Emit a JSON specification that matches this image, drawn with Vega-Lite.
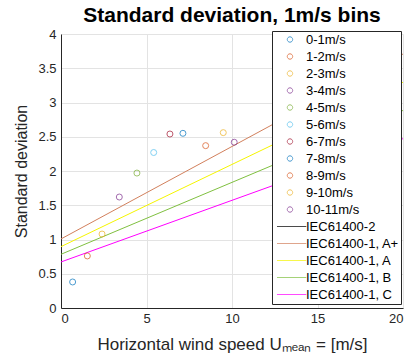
{
  "$schema": "https://vega.github.io/schema/vega-lite/v6.json",
  "width": 342,
  "height": 274,
  "autosize": {"type": "none"},
  "padding": {"left": 61, "top": 34, "right": 10, "bottom": 55},
  "title": {"text": "Standard deviation, 1m/s bins", "font": "Liberation Sans", "fontSize": 21, "fontWeight": "bold", "color": "#000000", "anchor": "middle", "offset": 2},
  "config": {"view": {"stroke": null}, "font": "Liberation Sans"},
  "datasets": {
    "points": [
      {"series": "0-1m/s", "u": 0.68, "sd": 0.38},
      {"series": "1-2m/s", "u": 1.54, "sd": 0.76},
      {"series": "2-3m/s", "u": 2.4, "sd": 1.08},
      {"series": "3-4m/s", "u": 3.41, "sd": 1.62},
      {"series": "4-5m/s", "u": 4.44, "sd": 1.97},
      {"series": "5-6m/s", "u": 5.42, "sd": 2.27},
      {"series": "6-7m/s", "u": 6.37, "sd": 2.54},
      {"series": "7-8m/s", "u": 7.13, "sd": 2.55},
      {"series": "8-9m/s", "u": 8.46, "sd": 2.37},
      {"series": "9-10m/s", "u": 9.49, "sd": 2.56},
      {"series": "10-11m/s", "u": 10.13, "sd": 2.42}
    ],
    "lines": [
      {"series": "IEC61400-1, A+", "u": 0, "sd": 1.008},
      {"series": "IEC61400-1, A+", "u": 20, "sd": 3.708},
      {"series": "IEC61400-1, A", "u": 0, "sd": 0.896},
      {"series": "IEC61400-1, A", "u": 20, "sd": 3.296},
      {"series": "IEC61400-1, B", "u": 0, "sd": 0.784},
      {"series": "IEC61400-1, B", "u": 20, "sd": 2.884},
      {"series": "IEC61400-1, C", "u": 0, "sd": 0.672},
      {"series": "IEC61400-1, C", "u": 20, "sd": 2.472}
    ]
  },
  "encoding": {
    "x": {
      "field": "u", "type": "quantitative",
      "scale": {"domain": [0, 20], "nice": false},
      "axis": {
        "values": [0, 5, 10, 15, 20],
        "title": "Horizontal wind speed Uₘₑₐₙ = [m/s]",
        "titleFont": "Liberation Sans", "titleFontSize": 17, "titleFontWeight": "normal", "titleColor": "#262626", "titlePadding": 11,
        "labelFont": "Liberation Sans", "labelFontSize": 13, "labelColor": "#262626", "labelPadding": 4,
        "ticks": false, "domainColor": "#262626", "gridColor": "#e3e3e3"
      }
    },
    "y": {
      "field": "sd", "type": "quantitative",
      "scale": {"domain": [0, 4], "nice": false},
      "axis": {
        "values": [0, 0.5, 1, 1.5, 2, 2.5, 3, 3.5, 4],
        "format": "~g",
        "title": "Standard deviation",
        "titleFont": "Liberation Sans", "titleFontSize": 16, "titleFontWeight": "normal", "titleColor": "#262626", "titlePadding": 8,
        "labelFont": "Liberation Sans", "labelFontSize": 13, "labelColor": "#262626", "labelPadding": 5,
        "ticks": false, "domainColor": "#262626", "gridColor": "#e3e3e3"
      }
    },
    "color": {
      "field": "series", "type": "nominal",
      "scale": {
        "domain": ["0-1m/s", "1-2m/s", "2-3m/s", "3-4m/s", "4-5m/s", "5-6m/s", "6-7m/s", "7-8m/s", "8-9m/s", "9-10m/s", "10-11m/s", "IEC61400-2", "IEC61400-1, A+", "IEC61400-1, A", "IEC61400-1, B", "IEC61400-1, C"],
        "range": ["#0072BD", "#D95319", "#EDB120", "#7E2F8E", "#77AC30", "#4DBEEE", "#A2142F", "#0072BD", "#D95319", "#EDB120", "#7E2F8E", "#000000", "#d2805c", "#f5f500", "#80c040", "#ff00ff"]
      },
      "legend": {
        "orient": "none", "legendX": 211, "legendY": -3, "zindex": 1,
        "title": null,
        "strokeColor": "#262626", "fillColor": "#ffffff", "padding": 2,
        "labelFont": "Liberation Sans", "labelFontSize": 13, "labelColor": "#000000", "labelOffset": 19,
        "rowPadding": 3, "symbolStrokeWidth": 1, "symbolSize": 36
      }
    }
  },
  "layer": [
    {
      "data": {"name": "lines"},
      "mark": {"type": "line", "strokeWidth": 1},
      "encoding": {}
    },
    {
      "data": {"name": "points"},
      "mark": {"type": "point", "filled": false, "strokeWidth": 1, "size": 36, "shape": "circle"},
      "encoding": {}
    },
    {
      "data": {"name": "points"},
      "transform": [{"filter": "datum.u < -100"}],
      "mark": {"type": "point", "filled": false, "strokeWidth": 1, "size": 36},
      "encoding": {
        "shape": {
          "field": "series", "type": "nominal",
          "scale": {
            "domain": ["0-1m/s", "1-2m/s", "2-3m/s", "3-4m/s", "4-5m/s", "5-6m/s", "6-7m/s", "7-8m/s", "8-9m/s", "9-10m/s", "10-11m/s", "IEC61400-2", "IEC61400-1, A+", "IEC61400-1, A", "IEC61400-1, B", "IEC61400-1, C"],
            "range": ["M4.06,0A0.9,0.9,0,1,1,2.26,0A0.9,0.9,0,1,1,4.06,0Z", "M4.06,0A0.9,0.9,0,1,1,2.26,0A0.9,0.9,0,1,1,4.06,0Z", "M4.06,0A0.9,0.9,0,1,1,2.26,0A0.9,0.9,0,1,1,4.06,0Z", "M4.06,0A0.9,0.9,0,1,1,2.26,0A0.9,0.9,0,1,1,4.06,0Z", "M4.06,0A0.9,0.9,0,1,1,2.26,0A0.9,0.9,0,1,1,4.06,0Z", "M4.06,0A0.9,0.9,0,1,1,2.26,0A0.9,0.9,0,1,1,4.06,0Z", "M4.06,0A0.9,0.9,0,1,1,2.26,0A0.9,0.9,0,1,1,4.06,0Z", "M4.06,0A0.9,0.9,0,1,1,2.26,0A0.9,0.9,0,1,1,4.06,0Z", "M4.06,0A0.9,0.9,0,1,1,2.26,0A0.9,0.9,0,1,1,4.06,0Z", "M4.06,0A0.9,0.9,0,1,1,2.26,0A0.9,0.9,0,1,1,4.06,0Z", "M4.06,0A0.9,0.9,0,1,1,2.26,0A0.9,0.9,0,1,1,4.06,0Z", "M-1.17,0H8.6", "M-1.17,0H8.6", "M-1.17,0H8.6", "M-1.17,0H8.6", "M-1.17,0H8.6"]
          }
        }
      }
    }
  ]
}
